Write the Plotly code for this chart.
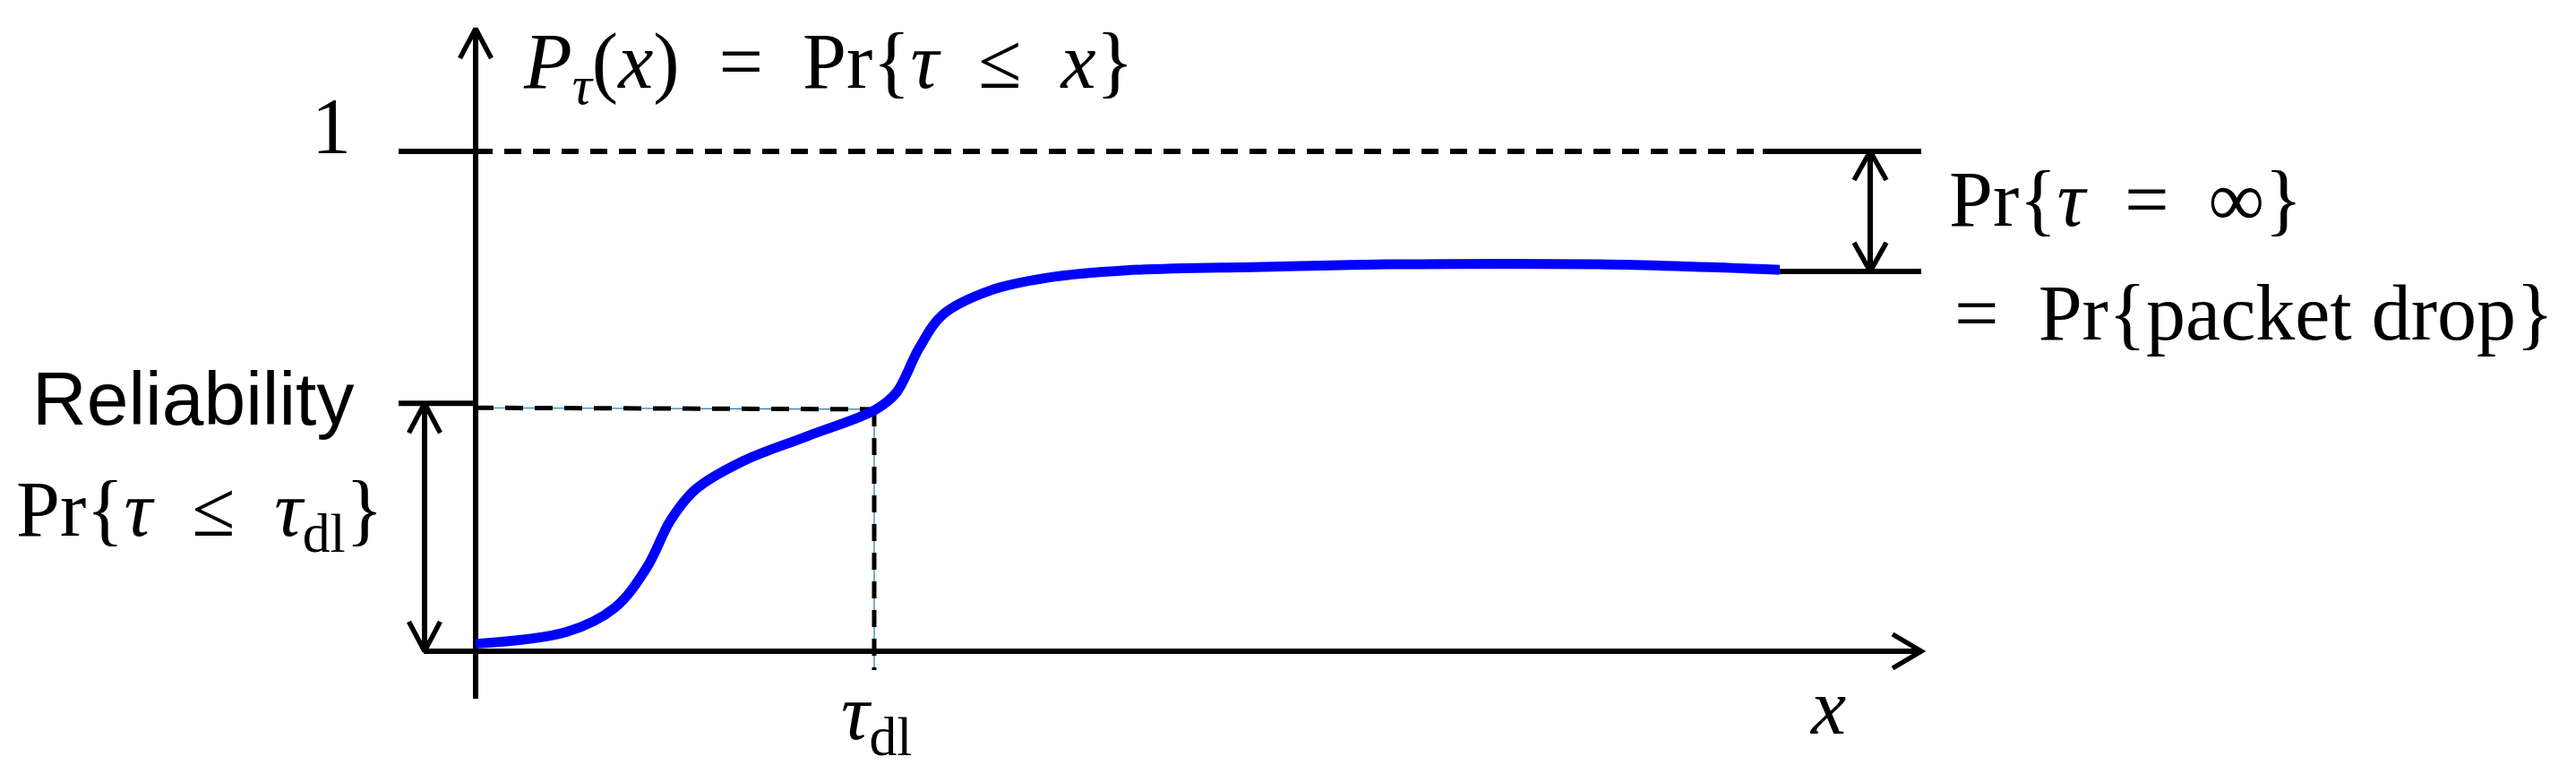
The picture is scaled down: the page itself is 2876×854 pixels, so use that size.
import plotly.graph_objects as go

# ---- data (schematic CDF of the delay tau) ----
curve_x = [0.0, 1.02, 1.56, 1.91, 2.18, 2.45, 2.98, 3.70, 4.47, 4.70, 4.95, 5.22,
           5.75, 6.38, 7.27, 8.77, 10.18, 12.54, 14.56]
curve_y = [0.015, 0.039, 0.088, 0.167, 0.263, 0.323, 0.380, 0.430, 0.484, 0.518,
           0.606, 0.674, 0.722, 0.747, 0.762, 0.769, 0.774, 0.774, 0.763]

tau_dl = 4.45          # deadline on the x axis
reliability = 0.496    # Pr{tau <= tau_dl} (tick level)
one_level = 1.0
drop_level = 0.760     # level the CDF saturates at (1 - Pr{tau = inf})
x_axis_end = 16.14
y_axis_top = 1.2455
x_axis_start = -0.58
y_axis_bottom = -0.095
tick_left = -0.86
right_arrow_x = 15.57
left_arrow_x = -0.57

# ---- pixel <-> data helpers (figure is 2876 x 854, no margins) ----
W, H = 2876, 854
X0, XS = 523, 100.0     # pixel of x=0, pixels per x unit
Y0, YS = 719, 558.0     # pixel of y=0, pixels per y unit
xr = [(0 - X0) / XS, (W - X0) / XS]
yr = [(Y0 - H) / YS, (Y0 - 0) / YS]
def dx(p): return p / XS
def dy(p): return p / YS

BLACK = "#000000"
BLUE = "#0000ff"
THIN = "#1f77b4"
LW = 6
AW = 5.5
fig = go.Figure()

def seg(x, y, width=LW, dash="solid", color=BLACK):
    fig.add_trace(go.Scatter(x=x, y=y, mode="lines", hoverinfo="skip",
                             line=dict(color=color, width=width, dash=dash),
                             showlegend=False))

# axes
seg([0, 0], [y_axis_bottom, y_axis_top])
seg([x_axis_start, x_axis_end], [0, 0])
seg([-dx(17.5), 0, dx(17.5)], [y_axis_top - dy(33), y_axis_top, y_axis_top - dy(33)], width=AW)
seg([x_axis_end - dx(32), x_axis_end, x_axis_end - dx(32)], [dy(19), 0, -dy(19)], width=AW)

# level 1: tick, dashed, solid end
seg([tick_left, 0], [one_level, one_level])
seg([0, curve_x[-1] - dx(19)], [one_level, one_level], dash="19px,13px")
seg([curve_x[-1] - dx(19), x_axis_end], [one_level, one_level])
# saturation level end segment
seg([curve_x[-1], x_axis_end], [drop_level, drop_level])

# reliability: tick + dashed guide lines to the curve (with thin helper line)
rel_end = curve_y[8]
seg([tick_left, 0], [reliability, reliability])
seg([0, tau_dl], [reliability - 0.009, rel_end], width=1.2, color=THIN)
seg([tau_dl, tau_dl], [rel_end, -dy(21)], width=1.2, color=THIN)
seg([0, tau_dl], [reliability - 0.009, rel_end], width=5, dash="20px,13px")
seg([tau_dl, tau_dl], [rel_end, -dy(21)], width=5, dash="19px,13px")

# right double arrow (Pr{tau = inf})
seg([right_arrow_x, right_arrow_x], [drop_level, one_level])
seg([right_arrow_x - dx(18), right_arrow_x, right_arrow_x + dx(18)],
    [one_level - dy(32), one_level, one_level - dy(32)], width=AW)
seg([right_arrow_x - dx(18), right_arrow_x, right_arrow_x + dx(18)],
    [drop_level + dy(32), drop_level, drop_level + dy(32)], width=AW)

# left double arrow (reliability)
seg([left_arrow_x, left_arrow_x], [0, reliability])
seg([left_arrow_x - dx(17.5), left_arrow_x, left_arrow_x + dx(17.5)],
    [reliability - dy(33), reliability, reliability - dy(33)], width=AW)
seg([left_arrow_x - dx(17.5), left_arrow_x, left_arrow_x + dx(17.5)],
    [dy(33), 0, dy(33)], width=AW)

# the CDF curve
fig.add_trace(go.Scatter(x=curve_x, y=curve_y, mode="lines", hoverinfo="skip",
                         line=dict(color=BLUE, width=11, shape="spline", smoothing=1.0),
                         showlegend=False))

SERIF = "Liberation Serif"
SANS = "Liberation Sans"
SP = "\u2002"
def txt(px, py, s, size=88, family=SERIF, xanchor="left"):
    fig.add_annotation(x=dx(px - X0), y=dy(Y0 - py), xref="x", yref="y", text=s,
                       showarrow=False, xanchor=xanchor, yanchor="middle",
                       font=dict(family=family, size=size, color=BLACK))

txt(574, 66, f"<i>P</i><sub><i>τ</i></sub>(<i>x</i>){SP}={SP}Pr{{<i>τ</i>{SP}≤{SP}<i>x</i>}}")
txt(362, 132, "1", xanchor="center")
txt(26, 437, "Reliability", size=84, family=SANS)
txt(8, 566, f"Pr{{<i>τ</i>{SP}≤{SP}<i>τ</i><sub>dl</sub>}}")
txt(970, 793, "<i>τ</i><sub>dl</sub>", xanchor="center")
txt(2032, 781, "<i>x</i>", xanchor="center")
txt(2166, 214, f"Pr{{<i>τ</i>{SP}={SP}∞}}")
txt(2172, 341, f"={SP}Pr{{packet drop}}")

fig.update_layout(
    width=W, height=H, margin=dict(l=0, r=0, t=0, b=0),
    paper_bgcolor="white", plot_bgcolor="white",
    xaxis=dict(range=xr, visible=False, fixedrange=True),
    yaxis=dict(range=yr, visible=False, fixedrange=True),
)
fig.write_html("out.html")
